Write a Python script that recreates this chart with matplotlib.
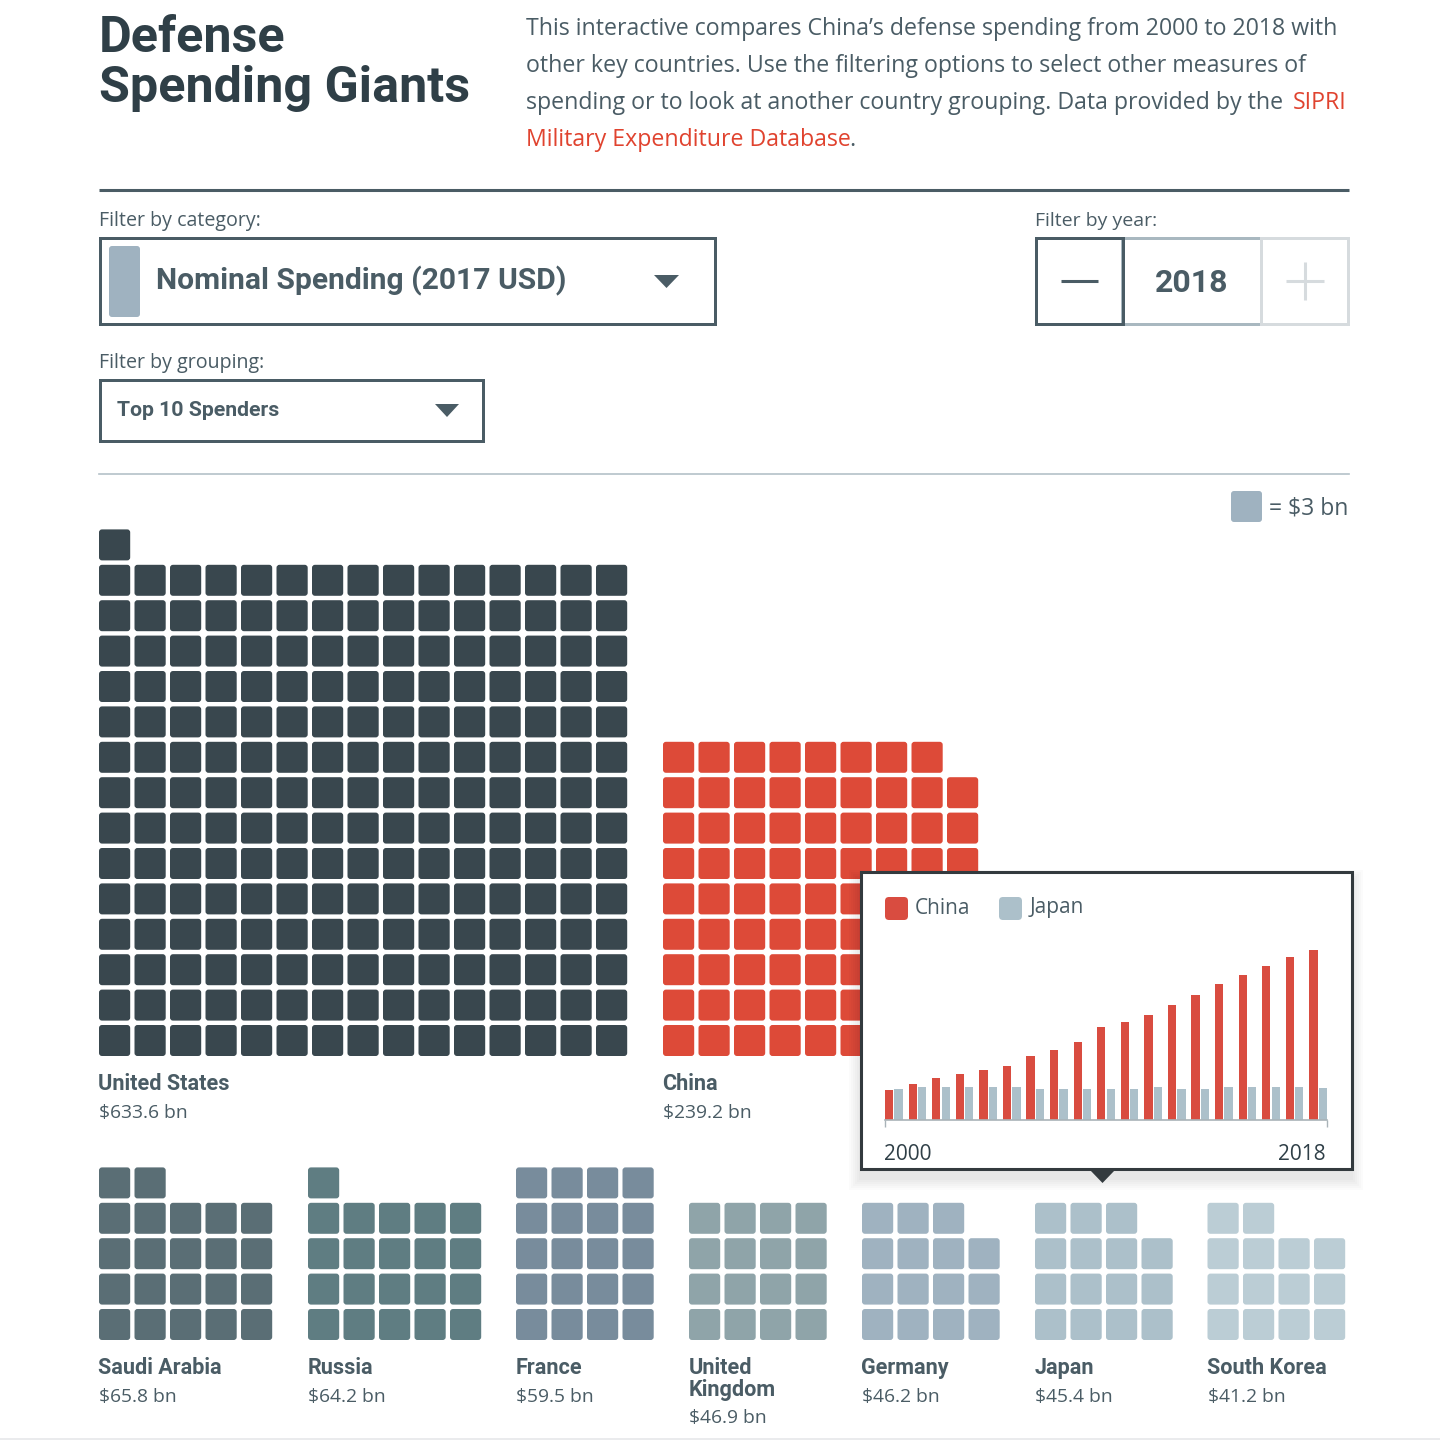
import matplotlib
matplotlib.use("Agg")
import matplotlib.pyplot as plt
from matplotlib.patches import FancyBboxPatch, Rectangle, Polygon

# data
countries = ["United States", "China", "Saudi Arabia", "Russia", "France",
             "United\nKingdom", "Germany", "Japan", "South Korea"]
spending = [633.6, 239.2, 65.8, 64.2, 59.5, 46.9, 46.2, 45.4, 41.2]
unit = 3
years = list(range(2000, 2019))
china_series = [42, 51, 59, 64, 70, 76, 90, 98, 109, 131, 137, 148, 161, 176, 191, 204, 216, 228, 239.2]
japan_series = [44, 46, 46, 46, 46, 46, 44, 44, 44, 44, 44, 46, 44, 44, 46, 46, 46, 46, 45.4]

# layout per waffle: left edge, columns, colour
grid_left = [99, 663, 99, 308, 516, 689, 862, 1035, 1207.5]
grid_cols = [15, 9, 5, 5, 4, 4, 4, 4, 4]
grid_colors = ["#39474e", "#dd4a38", "#5a6e75", "#5f7d82", "#788c9c",
               "#8fa4a9", "#9fb2c0", "#acc0ca", "#bbcdd5"]
CELL_W = 31.2
CELL_H = 31
PITCH_X = 35.5
PITCH_Y = 35.4

DARK = "#2f3f47"
SLATE = "#4a5c65"
RED = "#e0432f"
BODY = "Open Sans"
HEAD = "Roboto"

fig = plt.figure(figsize=(14.4, 14.4), dpi=100)
ax = fig.add_axes([0, 0, 1, 1])
ax.set_xlim(0, 1440)
ax.set_ylim(1440, 0)
ax.axis("off")


def rbox(x, y, w, h, color, r=3, z=2):
    ax.add_patch(FancyBboxPatch((x + r, y + r), w - 2 * r, h - 2 * r,
                                boxstyle="round,pad=%s,rounding_size=%s" % (r, r),
                                fc=color, ec="none", zorder=z))


def frame(x, y, w, h, color, lw=3, z=2):
    ax.add_patch(Rectangle((x, y), w, h, fc="none", ec=color, lw=lw * 0.72, zorder=z))


def waffle(left, bottom_top, cols, n, color):
    # fills from the bottom row up, the leftover cells sit on top
    for i in range(n):
        row = i // cols
        col = i % cols
        rbox(left + col * PITCH_X, bottom_top - row * PITCH_Y, CELL_W, CELL_H, color)


# header
ax.text(99, 38, "Defense", fontsize=36.2, family=HEAD, weight="bold", color=DARK, va="center")
ax.text(99, 88, "Spending Giants", fontsize=36.2, family=HEAD, weight="bold", color=DARK, va="center")
intro = ["This interactive compares China\u2019s defense spending from 2000 to 2018 with",
         "other key countries. Use the filtering options to select other measures of",
         "spending or to look at another country grouping. Data provided by the"]
for i, line in enumerate(intro):
    ax.text(526, 29 + i * 37, line, fontsize=16.66, family=BODY, color=SLATE, va="center")
ax.text(1347, 103, "SIPRI", fontsize=16.66, family=BODY, color=RED, va="center", ha="right")
ax.text(526, 140, "Military Expenditure Database", fontsize=16.66, family=BODY, color=RED, va="center")
ax.text(849, 140, ".", fontsize=16.66, family=BODY, color=SLATE, va="center")
ax.plot([99, 1349], [190, 190], color="#4a5c65", lw=2.2, solid_capstyle="butt")

# filters
ax.text(99, 221, "Filter by category:", fontsize=14.1, family=BODY, color=SLATE, va="center")
frame(100, 238, 615, 86, SLATE)
rbox(109, 246, 31, 71, "#9fb2c0")
ax.text(156, 281, "Nominal Spending (2017 USD)", fontsize=21.6, family=HEAD, weight="bold", color=SLATE, va="center")
ax.add_patch(Polygon([(654, 275), (679, 275), (666.5, 288)], fc=SLATE, ec="none"))

ax.text(99, 363, "Filter by grouping:", fontsize=14.1, family=BODY, color=SLATE, va="center")
frame(100, 379.5, 383, 61, SLATE)
ax.text(117, 410, "Top 10 Spenders", fontsize=15.3, family=HEAD, weight="bold", color=SLATE, va="center")
ax.add_patch(Polygon([(435, 404), (459, 404), (447, 417)], fc=SLATE, ec="none"))

ax.text(1035, 221, "Filter by year:", fontsize=14.0, family=BODY, color=SLATE, va="center")
frame(1122, 238, 139, 86, "#a9b8c0")
frame(1261, 238, 87, 86, "#d6dbde")
frame(1036, 238, 87, 86, SLATE)
ax.plot([1061, 1098], [281, 281], color=SLATE, lw=2.2, solid_capstyle="butt")
ax.plot([1286, 1324], [281, 281], color="#d6dbde", lw=2.2, solid_capstyle="butt")
ax.plot([1305, 1305], [262, 300], color="#d6dbde", lw=2.2, solid_capstyle="butt")
ax.text(1192, 283, "2018", fontsize=23, family=HEAD, weight="bold", color=SLATE, va="center", ha="center")

ax.plot([99, 1349], [474, 474], color="#b4c1c8", lw=1.2)
rbox(1231, 491, 31, 31, "#9fb2c0")
ax.text(1348, 509, "= $3 bn", fontsize=16.5, family=BODY, color=SLATE, va="center", ha="right")

# waffles
for i, name in enumerate(countries):
    n = round(spending[i] / unit)
    bottom_top = 1025 if i < 2 else 1309
    waffle(grid_left[i], bottom_top, grid_cols[i], n, grid_colors[i])
    if i < 2:
        ytext = 1084
    else:
        ytext = 1368
    xtext = grid_left[i] - 0.5
    if "\n" in name:
        a, b = name.split("\n")
        ax.text(xtext, ytext, a, fontsize=15.6, family=HEAD, weight="bold", color=SLATE, va="center")
        ax.text(xtext, ytext + 22, b, fontsize=15.6, family=HEAD, weight="bold", color=SLATE, va="center")
        yval = ytext + 50.5
    else:
        ax.text(xtext, ytext, name, fontsize=15.6, family=HEAD, weight="bold", color=SLATE, va="center")
        yval = ytext + 29
    ax.text(xtext + 0.5, yval, "$%.1f bn" % spending[i], fontsize=13.9, family=BODY, color=SLATE, va="center")

# tooltip shadow + box
for k in range(12, 0, -2):
    ax.add_patch(Rectangle((861 - k, 882 - k), 490 + 2 * k, 296 + 2 * k, fc="black", ec="none",
                           alpha=0.014, zorder=5))
ax.add_patch(Rectangle((860.5, 872), 491, 297, fc="white", ec="#333a3e", lw=2.2, zorder=6))
ax.add_patch(Polygon([(1090, 1170), (1115, 1170), (1102.5, 1183)], fc="#333a3e", ec="none", zorder=6))
rbox(885, 897, 23, 23, "#d94c40", r=4, z=7)
ax.text(915, 908, "China", fontsize=15, family=BODY, color=SLATE, va="center", zorder=7)
rbox(999, 897, 23, 23, "#acc0ca", r=4, z=7)
ax.text(1030, 907, "Japan", fontsize=15, family=BODY, color=SLATE, va="center", zorder=7)
ax.text(884, 1154, "2000", fontsize=15, family=BODY, color=DARK, va="center", zorder=7)
ax.text(1326, 1154, "2018", fontsize=15, family=BODY, color=DARK, va="center", ha="right", zorder=7)

# small bar chart inside tooltip, pixel box 885-1326 x 940-1120
inset = fig.add_axes([885 / 1440, 1 - 1120 / 1440, 441.5 / 1440, 180 / 1440], zorder=10)
inset.patch.set_alpha(0)
offs = [y - years[0] for y in years]
inset.bar(offs, china_series, width=0.353, align="edge", color="#d94c40")
inset.bar([o + 0.4 for o in offs], japan_series, width=0.353, align="edge", color="#acc0ca")
inset.set_xlim(0, 18.73)
inset.set_ylim(0, 239.2 * 180 / 170.5)
for s in ["top", "left", "right"]:
    inset.spines[s].set_visible(False)
inset.spines["bottom"].set_color("#a9b3b8")
inset.spines["bottom"].set_linewidth(1.2)
inset.set_yticks([])
inset.set_xticks([0, 18.73])
inset.set_xticklabels([])
inset.tick_params(axis="x", length=5, width=1, color="#a9b3b8")

ax.plot([0, 1440], [1438.5, 1438.5], color="#e6e8ea", lw=1.2)

fig.savefig("out.png", dpi=100, facecolor="white")
